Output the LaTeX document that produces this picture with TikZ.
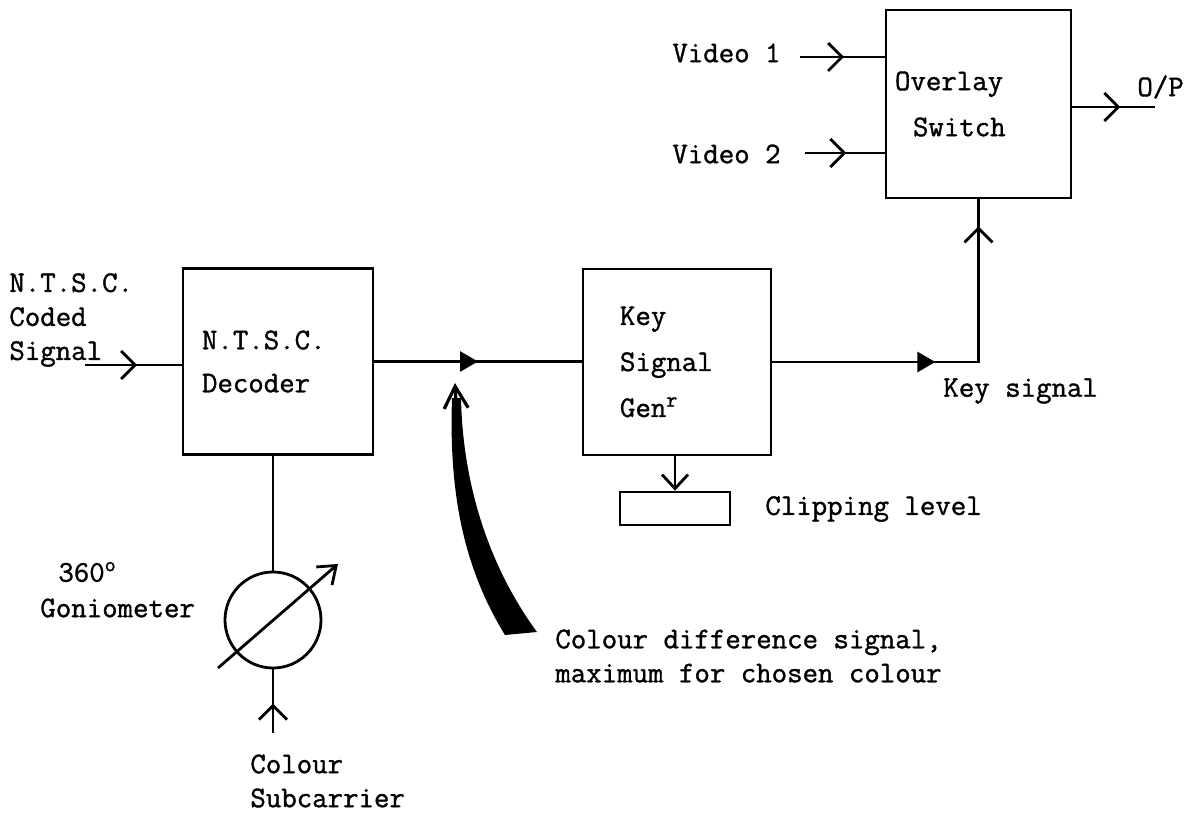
\documentclass[tikz,border=0pt]{standalone}
\usepackage{fontspec}
\usetikzlibrary{arrows.meta,decorations.markings}
\newfontfamily\typeface{Latin Modern Mono}[FakeBold=1.2]
\newcommand{\typefont}{\typeface\fontsize{15}{17}\selectfont}
\newcommand{\blockfont}{\typeface\fontsize{15}{23}\selectfont}

\begin{document}
\begin{tikzpicture}[
    x=0.5pt, y=-0.5pt,
    block/.style={draw, line width=1.4pt, align=left, font=\blockfont,
                  inner ysep=0pt, minimum height=93pt},
    wire/.style={line width=1.4pt},
    lab/.style={font=\typefont, align=left, inner sep=0pt, anchor=west},
    barb/.style={postaction={decorate, decoration={markings,
        mark=at position #1 with {\arrow{Straight Barb[length=7pt, width=14pt]}}}}},
    wedge/.style={postaction={decorate, decoration={markings,
        mark=at position #1 with {\arrow{Triangle[length=9pt, width=10pt]}}}}},
    tipbarb/.style={-{Straight Barb[length=7pt, width=13pt]}},
]
\useasboundingbox (0,0) rectangle (1190,813);

% ---- blocks ----
\node[block, text width=76pt, inner xsep=9.5pt] (dec) at (278,361.5)
    {N.T.S.C.\\[-1.5pt]Decoder};
\node[block, text width=57pt, inner xsep=18.5pt] (key) at (677,362)
    {Key\\Signal\\Gen\textsuperscript{r}};
\node[block, text width=83.5pt, inner xsep=4.5pt, minimum height=94pt] (ovl) at (978.5,104)
    {Overlay\\\hspace*{9pt}Switch};
\node[draw, line width=1.4pt, minimum width=55pt, minimum height=16.5pt] (clip) at (675,508.5) {};
\node[circle, draw, line width=1.4pt, minimum size=48pt, inner sep=0pt] (gonio) at (273,620) {};

% ---- labels ----
\node[lab] (ntsc) at (9,320) {N.T.S.C.\\Coded\\Signal};
\node[lab] (vid1) at (672,53) {Video 1};
\node[lab] (vid2) at (672,154) {Video 2};
\node[lab] (oplab) at (1137,87) {O/P};
\node[lab] (keysig) at (943,391) {Key signal};
\node[lab] (cliplab) at (765,509) {Clipping level};
\node[lab] (deg) at (58,572) {360\textsuperscript{o}};
\node[lab] (gonlab) at (40,608) {Goniometer};
\node[lab] (subcar) at (250,781) {Colour\\Subcarrier};
\node[lab] (cdiff) at (555,656) {Colour difference signal,\\maximum for chosen colour};

% ---- signal path ----
\coordinate (ntscin) at (85,365);
\draw[wire, barb=0.54] (ntscin) -- (ntscin -| dec.west);
\draw[wire, wedge=0.5] (dec.east) -- (dec.east -| key.west);
\draw[wire, wedge=0.442, barb=0.927] (key.east) -| (ovl.south);
\draw[wire, tipbarb] (clip.north |- key.south) -- (clip.north);

% ---- overlay inputs / output ----
\coordinate (v1in) at (800,57);
\coordinate (v2in) at (805,153);
\coordinate (opout) at (1155,107);
\draw[wire, barb=0.52] (v1in) -- (v1in -| ovl.west);
\draw[wire, barb=0.52] (v2in) -- (v2in -| ovl.west);
\draw[wire, barb=0.58] (opout -| ovl.east) -- (opout);

% ---- goniometer ----
\coordinate (subin) at (273,733);
\coordinate (gpa) at (218,668);
\coordinate (gpb) at (338,564);
\draw[wire] (gonio.north) -- (gonio.north |- dec.south);
\draw[wire, barb=0.46] (subin) -- (gonio.south);
\draw[wire, -{Straight Barb[length=8pt, width=12pt]}] (gpa) -- (gpb);

% ---- colour difference pointer ----
\coordinate (cdtip) at (455,383);
\fill (452,398) .. controls (449,490) and (462,565) .. (505,635)
    -- (537,632) .. controls (495,575) and (463,495) .. (461,398) -- cycle;
\draw[line width=1.6pt, -{Straight Barb[length=11pt, width=12pt]}] (457,425) -- (cdtip);
\end{tikzpicture}
\end{document}
